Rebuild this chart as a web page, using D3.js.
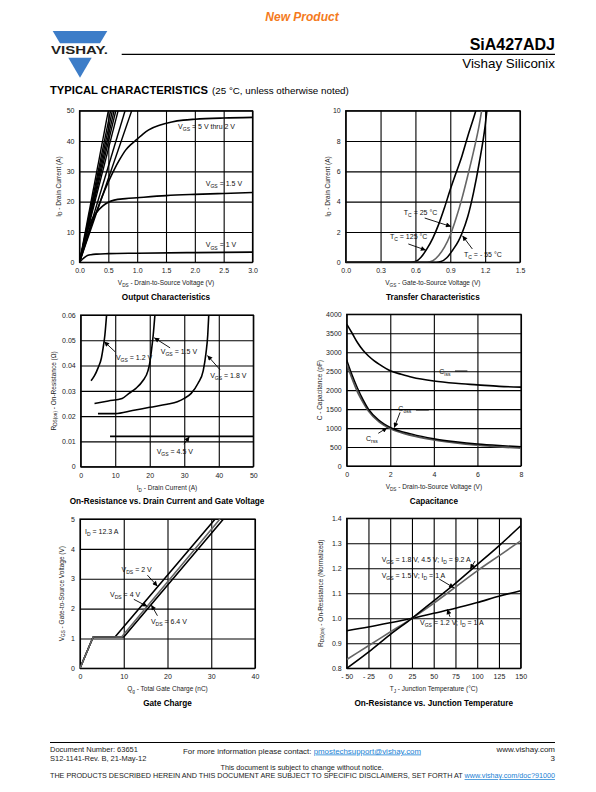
<!DOCTYPE html>
<html><head><meta charset="utf-8">
<script src="https://cdn.jsdelivr.net/npm/d3@7"></script>
<style>body{margin:0;background:#fff}svg{display:block}text{font-family:"Liberation Sans",Arial,Helvetica,sans-serif}</style>
</head><body><svg id="c" width="596" height="792"></svg>
<script>
// ---------- DATA ----------
// 1. Output characteristics (VDS V, ID A)
const outSteepEnds = [0.50, 0.54, 0.57, 0.60, 0.63, 0.67, 0.79, 0.905]; // VDS where ID reaches 50 A
const outSat = [[0,0],[0.1,6],[0.2,12],[0.3,17],[0.4,22],[0.5,26.5],[0.6,30.5],[0.7,34],[0.8,37],[0.9,39],[1.0,40.6],[1.1,42.3],[1.2,43.7],[1.4,45.3],[1.6,46.3],[1.8,46.9],[2.0,47.2],[2.5,47.6],[3.0,47.8]];
const out15 = [[0,0],[0.1,8],[0.2,13.5],[0.3,16.5],[0.4,18.5],[0.5,19.8],[0.6,20.5],[0.8,21.0],[1.0,21.3],[1.5,22.0],[2.0,22.4],[2.5,22.7],[3.0,23.0]];
const out10 = [[0,0],[0.05,1.0],[0.1,1.8],[0.15,2.3],[0.2,2.5],[0.3,2.7],[0.5,2.85],[1.0,3.0],[2.0,3.2],[3.0,3.35]];
// 2. Transfer characteristics (VGS V, ID A)
const tr125 = [[0,0],[0.55,0],[0.6,0.05],[0.65,0.35],[0.7,0.9],[0.75,1.6],[0.8,2.5],[0.85,3.6],[0.9,4.8],[0.95,5.9],[1.0,7.0],[1.05,8.3],[1.1,9.5],[1.12,10]];
const tr25 = [[0,0],[0.7,0],[0.75,0.1],[0.8,0.45],[0.85,1.0],[0.9,1.8],[0.95,2.9],[1.0,4.2],[1.05,5.7],[1.1,7.3],[1.15,9.1],[1.17,10]];
const trM55 = [[0,0],[0.78,0],[0.82,0.05],[0.87,0.3],[0.92,0.8],[0.97,1.4],[1.0,1.9],[1.05,3.0],[1.1,4.6],[1.15,6.6],[1.2,9.0],[1.215,10]];
// 3. On-resistance vs drain current (ID A, RDS ohm)
const ron12 = [[3,0.034],[4,0.036],[5,0.039],[6,0.043],[6.5,0.047],[7,0.052],[7.5,0.06]];
const ron15 = [[4,0.025],[8,0.026],[12,0.027],[14,0.029],[16,0.031],[18,0.034],[19.5,0.038],[20,0.041],[20.5,0.046],[21,0.052],[21.5,0.06]];
const ron18 = [[5,0.021],[10,0.021],[15,0.0222],[20,0.0235],[25,0.0247],[28,0.0257],[30,0.027],[32,0.029],[34,0.033],[35.5,0.038],[36.3,0.045],[36.8,0.052],[37.1,0.06]];
const ron45 = [[8.5,0.012],[50,0.012]];
// 4. Capacitance (VDS V, C pF)
const ciss = [[0,3740],[0.25,3500],[0.5,3250],[0.75,3050],[1,2900],[1.25,2780],[1.5,2680],[2,2510],[2.5,2420],[3,2340],[4,2240],[5,2180],[6,2140],[7,2100],[8,2080]];
const coss = [[0,2800],[0.25,2400],[0.5,2050],[0.75,1750],[1,1500],[1.5,1200],[2,1020],[3,840],[4,720],[5,640],[6,580],[7,540],[8,510]];
const crss = [[0,2700],[0.25,2300],[0.5,1950],[0.75,1680],[1,1450],[1.5,1160],[2,990],[3,800],[4,690],[5,610],[6,550],[7,505],[8,470]];
// 5. Gate charge (Qg nC, VGS V)
const qgVds2 = [[0,0],[3,1.05],[8,1.05],[30.9,5]];
const qgVds4 = [[0,0],[3,1.05],[9.5,1.05],[32,5]];
const qgVds64 = [[0,0],[3,1.05],[10,1.05],[32.8,5]];
// 6. On-resistance vs junction temperature (TJ °C, normalized)
const tjA = [[-50,0.80],[-25,0.865],[0,0.935],[25,1.0],[50,1.07],[75,1.14],[100,1.215],[125,1.29],[150,1.37]];
const tjB = [[-50,0.835],[-25,0.89],[0,0.945],[25,1.0],[50,1.06],[75,1.125],[100,1.19],[125,1.25],[150,1.31]];
const tjC = [[-50,0.95],[-25,0.965],[0,0.982],[25,1.0],[50,1.02],[75,1.04],[100,1.063],[125,1.088],[150,1.11]];
// tick values
const ticksOutX = [0,0.5,1,1.5,2,2.5,3], ticksOutY = [0,10,20,30,40,50];
const ticksTrX = [0,0.3,0.6,0.9,1.2,1.5], ticksTrY = [0,2,4,6,8,10];
const ticksRonX = [0,10,20,30,40,50], ticksRonY = [0,0.01,0.02,0.03,0.04,0.05,0.06];
const ticksCapX = [0,2,4,6,8], ticksCapY = [0,500,1000,1500,2000,2500,3000,3500,4000];
const ticksQgX = [0,10,20,30,40], ticksQgY = [0,1,2,3,4,5];
const ticksTjX = [-50,-25,0,25,50,75,100,125,150], ticksTjY = [0.8,0.9,1.0,1.1,1.2,1.3,1.4];

// ---------- DRAW ----------
const FONT = '"Liberation Sans",Arial,Helvetica,sans-serif';
const svg = d3.select('#c');
const defs = svg.append('defs');
defs.append('marker').attr('id','ah').attr('viewBox','0 0 10 10').attr('refX',10).attr('refY',5)
  .attr('markerWidth',6).attr('markerHeight',5).attr('markerUnits','userSpaceOnUse').attr('orient','auto')
  .append('path').attr('d','M0,0L10,5L0,10z').attr('fill','#000');

function rich(t, str, size) {
  const parts = str.split(/(_\{[^}]*\})/);
  let cur = 0;
  parts.forEach(p => {
    if (!p) return;
    const m = p.match(/^_\{([^}]*)\}$/);
    const ts = t.append('tspan');
    if (m) { const off = size*0.3; ts.attr('dy', off-cur).attr('font-size', size*0.72).text(m[1]); cur = off; }
    else { ts.attr('dy', -cur).text(p); cur = 0; }
  });
  return t;
}
function styleAxis(s){
  s.attr('font-family', FONT).attr('font-size', 7);
  s.select('.domain').remove();
  s.selectAll('line').attr('stroke','#000').attr('stroke-width',1.1);
  s.selectAll('text').attr('fill','#222');
}
let clipN = 0;
function chart(c) {
  const x = d3.scaleLinear().domain(c.xd).range([c.x0,c.x1]);
  const y = d3.scaleLinear().domain(c.yd).range([c.y1,c.y0]);
  const g = svg.append('g');
  g.append('g').attr('transform',`translate(0,${c.y1})`)
    .call(d3.axisBottom(x).tickValues(c.xt).tickSize(-(c.y1-c.y0)).tickPadding(6).tickFormat(c.xf)).call(styleAxis);
  g.append('g').attr('transform',`translate(${c.x0},0)`)
    .call(d3.axisLeft(y).tickValues(c.yt).tickSize(-(c.x1-c.x0)).tickPadding(5).tickFormat(c.yf)).call(styleAxis);
  g.append('rect').attr('x',c.x0).attr('y',c.y0).attr('width',c.x1-c.x0).attr('height',c.y1-c.y0)
    .attr('fill','none').attr('stroke','#000').attr('stroke-width',1.2);
  const id = 'clip'+(clipN++);
  defs.append('clipPath').attr('id',id).append('rect').attr('x',c.x0).attr('y',c.y0).attr('width',c.x1-c.x0).attr('height',c.y1-c.y0);
  const plot = g.append('g').attr('clip-path',`url(#${id})`);
  const mx = (c.x0+c.x1)/2, my = (c.y0+c.y1)/2;
  rich(g.append('text').attr('x',mx).attr('y',c.y1+23).attr('text-anchor','middle').attr('font-size',6.5).attr('fill','#222'), c.xlab, 6.5);
  rich(g.append('text').attr('transform',`translate(${c.ylx},${my}) rotate(-90)`).attr('text-anchor','middle').attr('font-size',6.5).attr('fill','#222'), c.ylab, 6.5);
  g.append('text').attr('x',mx).attr('y',c.y1+37.5).attr('text-anchor','middle').attr('font-size',8.2).attr('font-weight','bold').text(c.title);
  const line = (data, color='#000', w=1.6, curve=d3.curveMonotoneX) =>
    plot.append('path').datum(data).attr('fill','none').attr('stroke',color).attr('stroke-width',w)
      .attr('stroke-linejoin','round').attr('d', d3.line().x(d=>x(d[0])).y(d=>y(d[1])).curve(curve));
  const label = (str, px, py, anchor='start') =>
    rich(g.append('text').attr('x',x(px)).attr('y',y(py)).attr('text-anchor',anchor).attr('font-size',7).attr('fill','#111'), str, 7);
  const arrow = (ax, ay, bx, by) =>
    g.append('line').attr('x1',x(ax)).attr('y1',y(ay)).attr('x2',x(bx)).attr('y2',y(by))
      .attr('stroke','#000').attr('stroke-width',0.9).attr('marker-end','url(#ah)');
  return {x,y,g,plot,line,label,arrow};
}

// Chart 1
{
  const c = chart({x0:79.5,x1:252.5,y0:110.7,y1:262.3,xd:[0,3],yd:[0,50],xt:ticksOutX,yt:ticksOutY,
    xf:d=>d.toFixed(1),yf:d=>d,xlab:'V_{DS} - Drain-to-Source Voltage (V)',ylab:'I_{D} - Drain Current (A)',ylx:60.5,title:'Output Characteristics'});
  outSteepEnds.forEach(v => c.line([[0,0],[v,50]],'#000',1.4,d3.curveLinear));
  c.line(outSat); c.line(out15); c.line(out10);
  c.label('V_{GS} = 5 V thru 2 V',1.71,43.9);
  c.label('V_{GS} = 1.5 V',2.19,25.2);
  c.label('V_{GS} = 1 V',2.19,4.9);
}
// Chart 2
{
  const c = chart({x0:345.7,x1:520,y0:110.7,y1:262.3,xd:[0,1.5],yd:[0,10],xt:ticksTrX,yt:ticksTrY,
    xf:d=>d.toFixed(1),yf:d=>d,xlab:'V_{GS} - Gate-to-Source Voltage (V)',ylab:'I_{D} - Drain Current (A)',ylx:329.5,title:'Transfer Characteristics'});
  c.line(tr125); c.line(tr25,'#666'); c.line(trM55);
  c.label('T_{C} = 25 °C',0.50,3.12); c.arrow(0.68,2.92,0.906,2.36);
  c.label('T_{C} = 125 °C',0.381,1.54); c.arrow(0.539,1.21,0.69,0.8);
  c.label('T_{C} = - 55 °C',1.018,0.38); c.arrow(1.09,0.88,1.005,1.75);
}
// Chart 3
{
  const c = chart({x0:80.7,x1:253.3,y0:315,y1:466.7,xd:[0,50],yd:[0,0.06],xt:ticksRonX,yt:ticksRonY,
    xf:d=>d,yf:d=>d===0?'0':d.toFixed(2),xlab:'I_{D} - Drain Current (A)',ylab:'R_{DS(on)} - On-Resistance (Ω)',ylx:55.5,title:'On-Resistance vs. Drain Current and Gate Voltage'});
  c.line(ron12); c.line(ron15); c.line(ron18); c.line(ron45,'#000',1.6,d3.curveLinear);
  c.label('V_{GS} = 1.2 V',10.2,0.0422); c.arrow(9.94,0.0455,6.8,0.0495);
  c.label('V_{GS} = 1.5 V',23.2,0.0446); c.arrow(25.9,0.047,21.3,0.051);
  c.label('V_{GS} = 1.8 V',37.5,0.0351); c.arrow(40.4,0.0383,36.7,0.044);
  c.label('V_{GS} = 4.5 V',22,0.005); c.arrow(29.9,0.0089,31.5,0.0119);
}
// Chart 4
{
  const c = chart({x0:346.7,x1:521,y0:314.3,y1:466,xd:[0,8],yd:[0,4000],xt:ticksCapX,yt:ticksCapY,
    xf:d=>d,yf:d=>d,xlab:'V_{DS} - Drain-to-Source Voltage (V)',ylab:'C - Capacitance (pF)',ylx:321.5,title:'Capacitance'});
  c.line(ciss); c.line(crss,'#555',1.8); c.line(coss,'#000',1.4);
  c.label('C_{iss}',4.25,2439);
  c.g.append('line').attr('x1',c.x(4.97)).attr('x2',c.x(5.54)).attr('y1',c.y(2505)).attr('y2',c.y(2505)).attr('stroke','#000').attr('stroke-width',0.9);
  c.label('C_{oss}',2.37,1450);
  c.g.append('line').attr('x1',c.x(3.18)).attr('x2',c.x(3.77)).attr('y1',c.y(1476)).attr('y2',c.y(1476)).attr('stroke','#000').attr('stroke-width',0.9);
  c.arrow(2.45,1415,2.18,1010);
  c.label('C_{rss}',0.886,659); c.arrow(1.45,862,1.86,1010);
}
// Chart 5
{
  const c = chart({x0:80,x1:255,y0:519,y1:668.3,xd:[0,40],yd:[0,5],xt:ticksQgX,yt:ticksQgY,
    xf:d=>d,yf:d=>d,xlab:'Q_{g} - Total Gate Charge (nC)',ylab:'V_{GS} - Gate-to-Source Voltage (V)',ylx:63.5,title:'Gate Charge'});
  c.line(qgVds2,'#000',1.6,d3.curveLinear); c.line(qgVds64,'#000',1.6,d3.curveLinear); c.line(qgVds4,'#666',1.6,d3.curveLinear);
  c.label('I_{D} = 12.3 A',1.14,4.5);
  c.label('V_{DS} = 2 V',9.5,3.22); c.arrow(15.4,3.12,17.7,2.75);
  c.label('V_{DS} = 4 V',6.86,2.40); c.arrow(12.3,2.31,15.4,2.07);
  c.label('V_{DS} = 6.4 V',16.2,1.48); c.arrow(17.7,1.76,16.3,2.12);
}
// Chart 6
{
  const c = chart({x0:346.7,x1:520.7,y0:518.3,y1:668.3,xd:[-50,150],yd:[0.8,1.4],xt:ticksTjX,yt:ticksTjY,
    xf:d=>d<0?'- '+Math.abs(d):d,yf:d=>d.toFixed(1),xlab:'T_{J} - Junction Temperature (°C)',ylab:'R_{DS(on)} - On-Resistance (Normalized)',ylx:322.5,title:'On-Resistance vs. Junction Temperature'});
  c.line(tjC); c.line(tjB,'#666'); c.line(tjA);
  c.label('V_{GS} = 1.8 V, 4.5 V; I_{D} = 9.2 A',-9.8,1.227); c.arrow(97.5,1.229,92,1.197);
  c.label('V_{GS} = 1.5 V; I_{D} = 1 A',-9.8,1.161); c.arrow(56.4,1.157,73.3,1.122);
  c.label('V_{GS} = 1.2 V; I_{D} = 1 A',34.3,0.975); c.arrow(68.7,1.006,65.6,1.036);
}

// ---------- HEADER ----------
svg.append('text').attr('x',302).attr('y',21).attr('text-anchor','middle').attr('font-size',12).attr('font-weight','bold')
  .attr('font-style','italic').attr('fill','#F47A20').text('New Product');
const blue = '#3D7DC8';
svg.append('polygon').attr('points','52.7,31 107.3,31 100,43.3 60,43.3').attr('fill',blue);
svg.append('polygon').attr('points','68.3,57.7 91.7,57.7 80,77.7').attr('fill',blue);
svg.append('text').attr('x',51).attr('y',54.3).attr('font-size',11).attr('font-weight','bold')
  .attr('textLength',57).attr('lengthAdjust','spacingAndGlyphs').attr('fill','#231F20').text('VISHAY.');
svg.append('line').attr('x1',121.7).attr('x2',555).attr('y1',54.3).attr('y2',54.3).attr('stroke','#000').attr('stroke-width',1.3);
svg.append('text').attr('x',555).attr('y',49.5).attr('text-anchor','end').attr('font-size',16).attr('font-weight','bold').text('SiA427ADJ');
svg.append('text').attr('x',555).attr('y',67.5).attr('text-anchor','end').attr('font-size',13.4).text('Vishay Siliconix');
svg.append('text').attr('x',50).attr('y',94).attr('font-size',10.5).attr('font-weight','900')
  .attr('textLength',158).attr('lengthAdjust','spacingAndGlyphs').text('TYPICAL CHARACTERISTICS');
svg.append('text').attr('x',212).attr('y',94).attr('font-size',9.8).text('(25 °C, unless otherwise noted)');

// ---------- FOOTER ----------
svg.append('line').attr('x1',50).attr('x2',555).attr('y1',742.5).attr('y2',742.5).attr('stroke','#000').attr('stroke-width',1);
const ft = (t,x,y,a='start',s=7.5) => svg.append('text').attr('x',x).attr('y',y).attr('text-anchor',a).attr('font-size',s).attr('fill','#222').text(t);
ft('Document Number: 63651',50,751.5);
ft('S12-1141-Rev. B, 21-May-12',50,761);
ft('www.vishay.com',555,751.5,'end',8);
ft('3',555,761,'end',8);
ft('This document is subject to change without notice.',302,770,'middle',7.3);
const fc = svg.append('text').attr('x',302).attr('y',753.5).attr('text-anchor','middle').attr('font-size',7.9).attr('fill','#222');
fc.append('tspan').text('For more information please contact: ');
fc.append('tspan').attr('fill','#1a7fd4').attr('text-decoration','underline').text('pmostechsupport@vishay.com');
const fd = svg.append('text').attr('x',50).attr('y',778).attr('font-size',7.3).attr('fill','#222')
  .attr('textLength',505).attr('lengthAdjust','spacingAndGlyphs');
fd.append('tspan').text('THE PRODUCTS DESCRIBED HEREIN AND THIS DOCUMENT ARE SUBJECT TO SPECIFIC DISCLAIMERS, SET FORTH AT ');
fd.append('tspan').attr('fill','#1a7fd4').attr('text-decoration','underline').text('www.vishay.com/doc?91000');
</script></body></html>
